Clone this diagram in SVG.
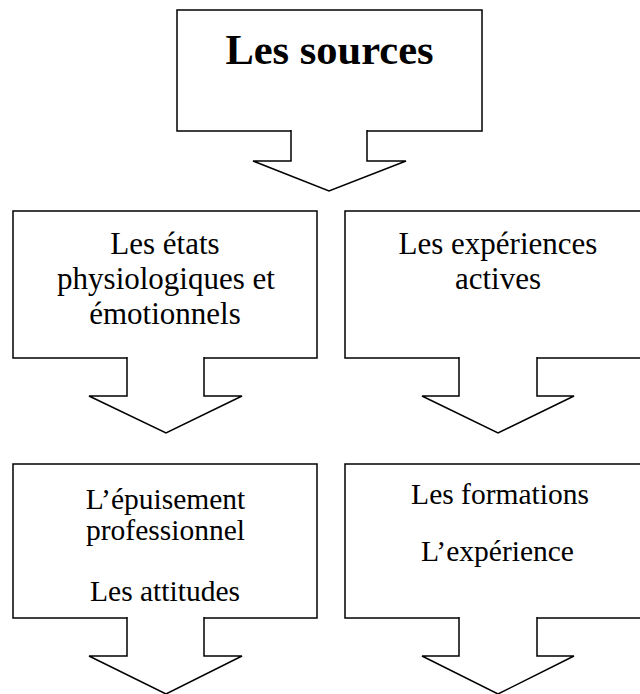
<svg xmlns="http://www.w3.org/2000/svg" width="640" height="694" viewBox="0 0 640 694">
  <style>
    .box { fill: #ffffff; stroke: #000000; stroke-width: 1.5; }
    .arrow { fill: #ffffff; stroke: #000000; stroke-width: 1.5; stroke-linejoin: miter; }
    .t { font-family: "Liberation Serif", "Times New Roman", serif; fill: #000000; text-anchor: middle; }
    .title { font-size: 42.5px; font-weight: bold; }
    .mid { font-size: 31px; }
    .low { font-size: 29.5px; }
  </style>
  <rect width="640" height="694" fill="#ffffff"/>
  <g id="node-sources">
    <rect class="box" x="177" y="10" width="305" height="121"/>
    <text class="t title" x="329.5" y="64">Les sources</text>
  </g>
  <g id="node-etats">
    <rect class="box" x="13" y="211" width="304" height="147"/>
    <text class="t mid" x="165" y="254">Les états</text>
    <text class="t mid" x="166" y="289">physiologiques et</text>
    <text class="t mid" x="165" y="324">émotionnels</text>
  </g>
  <g id="node-experiences-actives">
    <rect class="box" x="345" y="211" width="306" height="147"/>
    <text class="t mid" x="498" y="254">Les expériences</text>
    <text class="t mid" x="498" y="289">actives</text>
  </g>
  <g id="node-epuisement">
    <rect class="box" x="13" y="464" width="304" height="154"/>
    <text class="t low" x="165.5" y="509">L’épuisement</text>
    <text class="t low" x="165.5" y="540">professionnel</text>
    <text class="t low" x="165" y="601">Les attitudes</text>
  </g>
  <g id="node-formations">
    <rect class="box" x="345" y="464" width="306" height="154"/>
    <text class="t low" x="500" y="504">Les formations</text>
    <text class="t low" x="497.5" y="561">L’expérience</text>
  </g>
  <g id="connectors">
    <path class="arrow" d="M291,130 V161 H253 L329,191 L406,161 H367 V130"/>
    <path class="arrow" d="M127,357 V396 H89 L166,433 L242,396 H204 V357"/>
    <path class="arrow" d="M459,357 V396 H422 L498,433 L574,396 H537 V357"/>
    <path class="arrow" d="M127,617 V656 H89 L166,694 L242,656 H204 V617"/>
    <path class="arrow" d="M459,617 V656 H422 L498,694 L574,656 H537 V617"/>
  </g>
</svg>
